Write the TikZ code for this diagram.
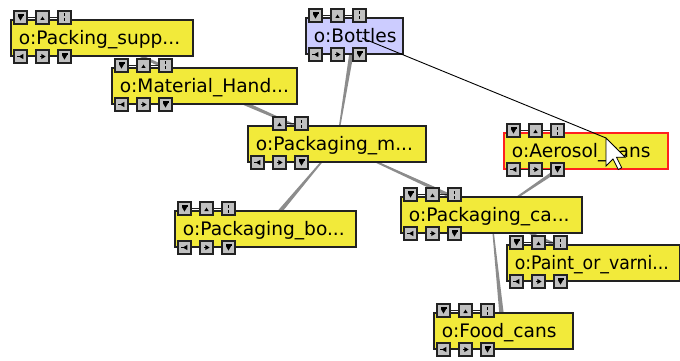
\documentclass[tikz,border=0pt]{standalone}
\usepackage{fontspec}
\usepackage{graphicx}
\setmainfont{DejaVu Sans}
\usetikzlibrary{calc}

\definecolor{boxyellow}{RGB}{242,234,58}
\definecolor{boxlilac}{RGB}{204,204,255}
\definecolor{edgedark}{RGB}{34,34,34}
\definecolor{btngray}{RGB}{192,192,192}
\definecolor{linkgray}{RGB}{140,140,140}
\definecolor{selred}{RGB}{255,32,32}

\pgfdeclarelayer{paper}
\pgfdeclarelayer{links}
\pgfsetlayers{paper,links,main}

% tapered link: wide at the first node, narrow at the second
\newcommand\linkbar[2]{%
  \fill[link] ($(#1)!2.5pt!90:(#2)$) -- ($(#2)!0.4pt!-90:(#1)$)
    -- ($(#2)!0.4pt!90:(#1)$) -- ($(#1)!2.5pt!-90:(#2)$) -- cycle;}

\tikzset{
  cls/.style={draw=edgedark, line width=1.6pt, fill=boxyellow, anchor=north west,
    minimum height=36pt, inner xsep=8pt, inner ysep=0pt,
    text height=13.6pt, text depth=0pt, align=left,
    font=\fontsize{18.6}{20}\selectfont},
  picked/.style={draw=selred},
  link/.style={fill=linkgray},
  knob/.style={fill=btngray, draw=edgedark, line width=1.1pt},
  ink/.style={fill=black},
  joiner/.style={draw=edgedark, line width=1pt},
  drag/.style={draw=black, line width=0.9pt},
  pointer/.style={fill=white, draw=black, line width=0.8pt, line join=miter},
  pics/toprow/.style={code={
    \draw[joiner] (13,6.5) -- (22,6.5) (35,6.5) -- (44,6.5);
    \draw[knob] (0,0) rectangle (13,13);
    \draw[knob] (22,0) rectangle (35,13);
    \draw[knob] (44,0) rectangle (57,13);
    \fill[ink] (3.5,3) rectangle (9.5,4.6);
    \fill[ink] (4,5.2) -- (9,5.2) -- (6.5,9.6) -- cycle;
    \fill[ink] (26.3,9) -- (30.7,9) -- (28.5,5.6) -- cycle;
    \fill[ink] (49.8,2.5) rectangle (51.2,5.5);
    \fill[ink] (49.8,7.5) rectangle (51.2,10.5);
  }},
  pics/toprowpair/.style={code={
    \draw[joiner] (35,6.5) -- (44,6.5);
    \draw[knob] (22,0) rectangle (35,13);
    \draw[knob] (44,0) rectangle (57,13);
    \fill[ink] (26.3,9) -- (30.7,9) -- (28.5,5.6) -- cycle;
    \fill[ink] (49.8,2.5) rectangle (51.2,5.5);
    \fill[ink] (49.8,7.5) rectangle (51.2,10.5);
  }},
  pics/botrow/.style={code={
    \draw[joiner] (13,6.5) -- (22,6.5) (35,6.5) -- (44,6.5);
    \draw[knob] (0,0) rectangle (13,13);
    \draw[knob] (22,0) rectangle (35,13);
    \draw[knob] (44,0) rectangle (57,13);
    \fill[ink] (3,6) rectangle (5.2,7);
    \fill[ink] (4.8,6.5) -- (9.3,3.9) -- (9.3,9.1) -- cycle;
    \fill[ink] (25.5,6) rectangle (27.5,7);
    \fill[ink] (27.3,3.9) -- (27.3,9.1) -- (31.6,6.5) -- cycle;
    \fill[ink] (47.5,3) rectangle (53.5,4.6);
    \fill[ink] (48,5.2) -- (53,5.2) -- (50.5,9.6) -- cycle;
  }},
}

\begin{document}
\begin{tikzpicture}[x=1pt, y=-1pt]
  \useasboundingbox (0,0) rectangle (680,361);
  \begin{pgfonlayer}{paper}
    \fill[white] (0,0) rectangle (680,361);
  \end{pgfonlayer}

  % class boxes
  \node[cls, text width=166pt] (ps) at (10,19) {o:Packing\_supp...};
  \node[cls, text width=169pt] (mh) at (111,67) {o:Material\_Hand...};
  \node[cls, fill=boxlilac, text width=81pt] (bt) at (305,17) {o:Bottles};
  \node[cls, text width=162pt] (pm) at (247,125) {o:Packaging\_m...};
  \node[cls, picked, text width=148pt] (ae) at (503,132) {o:Aerosol\_cans};
  \node[cls, text width=165pt] (pb) at (174,210) {o:Packaging\_bo...};
  \node[cls, text width=165pt] (pc) at (400,196) {o:Packaging\_ca...};
  \node[cls, text width=157pt] (pv) at (506,244) {\scalebox{0.93}[1]{o:Paint\_or\_varni...}};
  \node[cls, text width=123pt] (fc) at (433,312) {o:Food\_cans};

  % links between classes, behind the boxes
  \begin{pgfonlayer}{links}
    \linkbar{mh}{ps}
    \linkbar{mh}{pm}
    \linkbar{bt}{pm}
    \linkbar{pb}{pm}
    \linkbar{pc}{pm}
    \linkbar{ae}{pc}
    \linkbar{pv}{pc}
    \linkbar{fc}{pc}
  \end{pgfonlayer}

  % control buttons above and below each box
  \pic at (14,11) {toprow};     \pic at (14,50) {botrow};
  \pic at (115,59) {toprow};    \pic at (115,98) {botrow};
  \pic at (309,9) {toprow};     \pic at (309,48) {botrow};
  \pic at (251,117) {toprowpair}; \pic at (251,156) {botrow};
  \pic at (507,124) {toprow};   \pic at (507,163) {botrow};
  \pic at (178,202) {toprow};   \pic at (178,241) {botrow};
  \pic at (404,188) {toprow};   \pic at (404,227) {botrow};
  \pic at (510,236) {toprow};   \pic at (510,275) {botrow};
  \pic at (437,304) {toprow};   \pic at (437,343) {botrow};

  % rubber-band line being dragged and the mouse pointer
  \coordinate (grab) at (362,38);
  \coordinate (tip) at (606,138);
  \draw[drag] (grab) -- (tip);
  \draw[pointer, shift={(tip)}] (0,0) -- (0,28) -- (7,21) -- (12.2,31.5)
    -- (15.7,29.7) -- (10.5,19.2) -- (19.2,19.2) -- cycle;
\end{tikzpicture}
\end{document}
